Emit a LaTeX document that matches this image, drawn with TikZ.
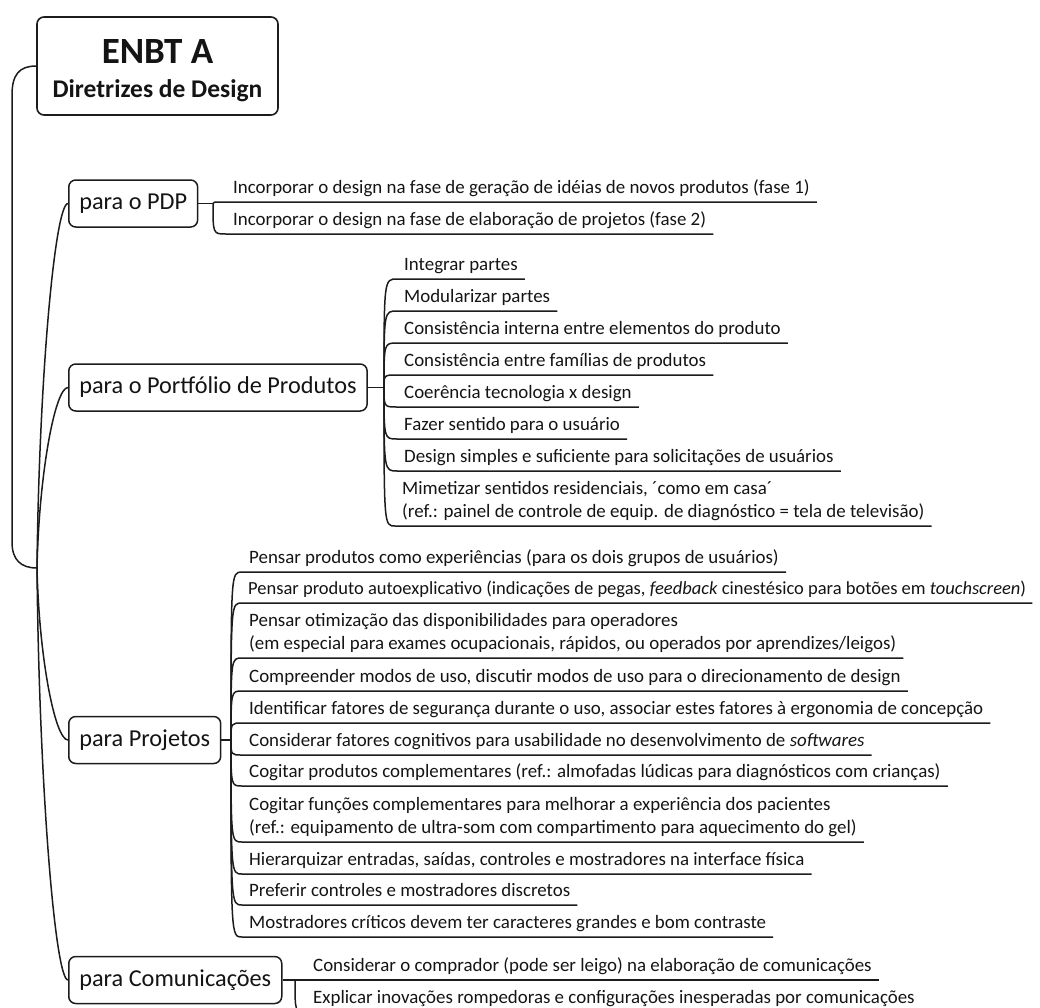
\documentclass[tikz,border=0pt]{standalone}
\usepackage{fontspec}
\setmainfont{Carlito}
\usetikzlibrary{calc}
\definecolor{linec}{HTML}{1C1C1C}
\definecolor{txtc}{HTML}{141414}
\begin{document}
\begin{tikzpicture}[x=1pt,y=-1pt,
  ln/.style={line width=1.5pt, draw=linec},
  rootbox/.style={draw=linec, line width=1.6pt, rounded corners=7pt, fill=white,
    minimum width=241pt, minimum height=98pt, align=center, inner sep=0pt, text=txtc},
  topic/.style={draw=linec, line width=1.5pt, rounded corners=7pt, fill=white,
    inner xsep=10.5pt, minimum height=47pt, anchor=west, text=txtc,
    font=\fontsize{24.3}{29}\selectfont},
  sub/.style={inner xsep=7pt, inner ysep=1pt, anchor=south west, align=left, text=txtc,
    font=\fontsize{18.9}{23}\selectfont},
]
\useasboundingbox (0,0) rectangle (1040,1007);

% root
\node[rootbox] (root) at (157.5,66)
  {\rule{0pt}{34pt}{\fontsize{37}{40}\selectfont\bfseries ENBT A}\\[15pt]{\fontsize{25.5}{30}\selectfont\bfseries Diretrizes de Design}};
\coordinate (P) at (37,568);
\draw[ln] (root.west) .. controls (19,66) and (12,75) .. (12,95) -- (12,542)
  .. controls (12,560) and (21,568) .. (P);

% main topics
\node[topic] (pdp) at (68,203.5) {para o PDP};
\node[topic] (port) at (68,387.5) {para o Portfólio de Produtos};
\node[topic] (proj) at (68,740) {para Projetos};
\node[topic] (comm) at (68,980) {para Comunicações};

\foreach \t in {pdp,port,proj,comm}{
  \draw[ln] (P) .. controls ($(P)!0.52!(P|-\t.west)+(2,0)$) and ($(\t.west)+(-13,0)$) .. (\t.west);
}
\coordinate (jpdp) at (213,203.5);
\coordinate (jport) at (384,387.5);
\coordinate (jproj) at (231,740);
\coordinate (jcomm) at (295,980);
\foreach \t in {pdp,port,proj,comm}{
  \draw[ln] (\t.east) -- (j\t);
}

% PDP children
\node[sub] (a1) at (226,202) {\strut Incorporar o design na fase de geração de idéias de novos produtos (fase 1)};
\node[sub] (a2) at (226,234) {\strut Incorporar o design na fase de elaboração de projetos (fase 2)};

% Portfolio children
\node[sub] (b1) at (397,279) {\strut Integrar partes};
\node[sub] (b2) at (397,311) {\strut Modularizar partes};
\node[sub] (b3) at (397,343) {\strut Consistência interna entre elementos do produto};
\node[sub] (b4) at (397,375) {\strut Consistência entre famílias de produtos};
\node[sub] (b5) at (397,407) {\strut Coerência tecnologia x design};
\node[sub] (b6) at (397,439) {\strut Fazer sentido para o usuário};
\node[sub] (b7) at (397,471) {\strut Design simples e suficiente para solicitações de usuários};
\node[sub] (b8) at (395,526) {\strut Mimetizar sentidos residenciais, ´como em casa´\\\strut (ref.: painel de controle de equip. de diagnóstico = tela de televisão)};

% Projetos children
\node[sub] (c1) at (242,572) {\strut Pensar produtos como experiências (para os dois grupos de usuários)};
\node[sub, font=\fontsize{18.5}{23}\selectfont, inner xsep=6pt] (c2) at (242,603) {\strut Pensar produto autoexplicativo (indicações de pegas, \textit{feedback} cinestésico para botões em \textit{touchscreen})};
\node[sub] (c3) at (242,658) {\strut Pensar otimização das disponibilidades para operadores\\\strut (em especial para exames ocupacionais, rápidos, ou operados por aprendizes/leigos)};
\node[sub] (c4) at (242,691) {\strut Compreender modos de uso, discutir modos de uso para o direcionamento de design};
\node[sub] (c5) at (242,723) {\strut Identificar fatores de segurança durante o uso, associar estes fatores à ergonomia de concepção};
\node[sub] (c6) at (242,755) {\strut Considerar fatores cognitivos para usabilidade no desenvolvimento de \textit{softwares}};
\node[sub] (c7) at (242,786) {\strut Cogitar produtos complementares (ref.: almofadas lúdicas para diagnósticos com crianças)};
\node[sub] (c8) at (242,842) {\strut Cogitar funções complementares para melhorar a experiência dos pacientes\\\strut (ref.: equipamento de ultra-som com compartimento para aquecimento do gel)};
\node[sub] (c9) at (242,874) {\strut Hierarquizar entradas, saídas, controles e mostradores na interface física};
\node[sub] (c10) at (242,905) {\strut Preferir controles e mostradores discretos};
\node[sub] (c11) at (242,937) {\strut Mostradores críticos devem ter caracteres grandes e bom contraste};

% Comunicacoes children
\node[sub] (d1) at (306,980) {\strut Considerar o comprador (pode ser leigo) na elaboração de comunicações};
\node[sub] (d2) at (306,1012) {\strut Explicar inovações rompedoras e configurações inesperadas por comunicações};

% child connectors with underline
\foreach \j/\c in {jpdp/a1,jpdp/a2,
  jport/b1,jport/b2,jport/b3,jport/b4,jport/b5,jport/b6,jport/b7,jport/b8,
  jproj/c1,jproj/c2,jproj/c3,jproj/c4,jproj/c5,jproj/c6,jproj/c7,jproj/c8,jproj/c9,jproj/c10,jproj/c11,
  jcomm/d1,jcomm/d2}{
  \draw[ln] (\j) .. controls (\j|-\c.south west) and (\j|-\c.south west) .. (\c.south west) -- (\c.south east);
}
\end{tikzpicture}
\end{document}
